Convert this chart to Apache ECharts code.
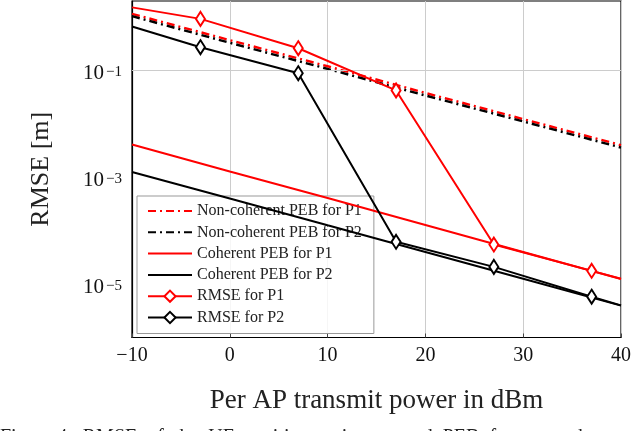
<!DOCTYPE html>
<html>
<head>
<meta charset="utf-8">
<script src="https://cdn.jsdelivr.net/npm/echarts@6/dist/echarts.min.js"></script>
<style>
  html, body { margin: 0; padding: 0; background: #fff; }
  #chart { width: 640px; height: 431px; }
</style>
</head>
<body>
<div id="chart"></div>
<script>
// ---- data ----
var powerTicks = [-10, 0, 10, 20, 30, 40];
var yTickExps = [-5, -3, -1];

// straight PEB curves (dBm, metres)
var pebX = [-10, 0, 10, 20, 30, 40];
var nonCohP1 = [1.15, 0.37, 0.12, 0.038, 0.0123, 0.0040];
var nonCohP2 = [1.04, 0.33, 0.107, 0.034, 0.0111, 0.0036];
var cohP1 = [4.1e-3, 1.28e-3, 4.1e-4, 1.28e-4, 4.0e-5, 1.25e-5];
var cohP2 = [1.26e-3, 4.0e-4, 1.26e-4, 4.0e-5, 1.26e-5, 3.95e-6];

// RMSE curves, markers only at -3, 7, 17, 27, 37
var rmseX = [-10, -3, 7, 17, 27, 37, 40];
var rmseP1 = [1.52, 0.925, 0.261, 0.0423, 5.5e-5, 1.77e-5, 1.26e-5];
var rmseP2 = [0.664, 0.273, 0.089, 6.2e-5, 2.1e-5, 5.8e-6, 4.0e-6];
var rmseMarked = [false, true, true, true, true, true, false];

var RED = '#ff0000';
var BLACK = '#000000';
var FONT = 'Liberation Serif';

function pairs(xs, ys) {
  return xs.map(function (x, i) { return [x, ys[i]]; });
}
function markedPairs(xs, ys) {
  return xs.map(function (x, i) {
    return rmseMarked[i] ? { value: [x, ys[i]] } : { value: [x, ys[i]], symbol: 'none' };
  });
}

var chart = echarts.init(document.getElementById('chart'), null, { renderer: 'canvas' });

var dashDot = [8, 4, 2, 4];
var noMarker = { color: 'rgba(0,0,0,0)', borderColor: 'rgba(0,0,0,0)', borderWidth: 0 };

var option = {
  animation: false,
  backgroundColor: '#fff',
  textStyle: { fontFamily: FONT },
  grid: {
    left: 132, right: 19, top: 1, bottom: 93.5,
    show: true, borderColor: '#000', borderWidth: 1.2, backgroundColor: 'transparent'
  },
  xAxis: {
    type: 'value',
    min: -10, max: 40, interval: 10,
    name: 'Per AP transmit power in dBm',
    nameLocation: 'middle',
    nameGap: 50,
    nameTextStyle: { fontFamily: FONT, fontSize: 27, color: '#222' },
    axisLine: { show: true, onZero: false, lineStyle: { color: '#000', width: 1.2 } },
    axisTick: { show: true, inside: true, length: 4, lineStyle: { color: '#444' } },
    axisLabel: {
      margin: 8, fontFamily: FONT, fontSize: 20, color: '#111',
      formatter: function (v) {
        return powerTicks.indexOf(v) >= 0 ? String(v).replace('-', '\u2212') : '';
      }
    },
    splitLine: { show: true, lineStyle: { color: '#cccccc', width: 1 } }
  },
  yAxis: {
    type: 'log',
    logBase: 10,
    min: 1e-6, max: 2,
    interval: 1,
    name: 'RMSE [m]',
    nameLocation: 'middle',
    nameRotate: 90,
    nameGap: 78,
    nameTextStyle: { fontFamily: FONT, fontSize: 26, color: '#222' },
    axisLine: { show: true, onZero: false, lineStyle: { color: '#000', width: 1.2 } },
    axisTick: { show: false },
    splitLine: { show: false },
    axisLabel: {
      margin: 10,
      color: '#111',
      formatter: function (v) {
        var e = Math.log10(v);
        var r = Math.round(e);
        if (Math.abs(e - r) > 1e-6 || yTickExps.indexOf(r) < 0) return '';
        return '{b|10}{s|' + String(r).replace('-', '\u2212') + '}';
      },
      rich: {
        b: { fontFamily: FONT, fontSize: 21, lineHeight: 24, padding: [6, 0, 0, 0], color: '#111' },
        s: { fontFamily: FONT, fontSize: 15, lineHeight: 14, padding: [6, 0, 0, 2], verticalAlign: 'top', color: '#111' }
      }
    }
  },
  legend: {
    orient: 'vertical',
    left: 137, top: 196,
    padding: [7, 12, 8, 10],
    itemWidth: 44, itemHeight: 14, itemGap: 5.3,
    backgroundColor: 'rgba(255,255,255,0.82)',
    borderColor: '#999', borderWidth: 1, borderRadius: 0,
    textStyle: { fontFamily: FONT, fontSize: 16, color: '#222' },
    data: [
      { name: 'Non-coherent PEB for P1', itemStyle: noMarker },
      { name: 'Non-coherent PEB for P2', itemStyle: noMarker },
      { name: 'Coherent PEB for P1', itemStyle: noMarker },
      { name: 'Coherent PEB for P2', itemStyle: noMarker },
      { name: 'RMSE for P1' },
      { name: 'RMSE for P2' }
    ]
  },
  series: [
    {
      name: 'Non-coherent PEB for P1', type: 'line', symbol: 'none',
      data: pairs(pebX, nonCohP1),
      lineStyle: { color: RED, width: 2.4, type: dashDot }, itemStyle: { color: RED },
      markLine: {
        silent: true, symbol: 'none', label: { show: false },
        lineStyle: { color: '#cccccc', width: 1, type: 'solid' },
        data: yTickExps.map(function (e) { return { yAxis: Math.pow(10, e) }; })
      },
      z: 2
    },
    {
      name: 'Non-coherent PEB for P2', type: 'line', symbol: 'none',
      data: pairs(pebX, nonCohP2),
      lineStyle: { color: BLACK, width: 2.4, type: dashDot }, itemStyle: { color: BLACK },
      z: 3
    },
    {
      name: 'Coherent PEB for P1', type: 'line', symbol: 'none',
      data: pairs(pebX, cohP1),
      lineStyle: { color: RED, width: 2 }, itemStyle: { color: RED },
      z: 4
    },
    {
      name: 'Coherent PEB for P2', type: 'line', symbol: 'none',
      data: pairs(pebX, cohP2),
      lineStyle: { color: BLACK, width: 2 }, itemStyle: { color: BLACK },
      z: 5
    },
    {
      name: 'RMSE for P1', type: 'line', symbol: 'diamond', symbolSize: [9, 14],
      showAllSymbol: true,
      data: markedPairs(rmseX, rmseP1),
      lineStyle: { color: RED, width: 2 },
      itemStyle: { color: '#fff', borderColor: RED, borderWidth: 2 },
      z: 6
    },
    {
      name: 'RMSE for P2', type: 'line', symbol: 'diamond', symbolSize: [9, 14],
      showAllSymbol: true,
      data: markedPairs(rmseX, rmseP2),
      lineStyle: { color: BLACK, width: 2 },
      itemStyle: { color: '#fff', borderColor: BLACK, borderWidth: 2 },
      z: 7
    }
  ],
  graphic: [{
    type: 'text', left: 0, top: 428,
    style: {
      text: 'Figure 4:  RMSE  of  the  UE  position  estimates  and  PEB  for  non-coherent  and  coherent',
      fontFamily: FONT, fontSize: 20, fill: '#222'
    }
  }]
};

chart.setOption(option);
</script>
</body>
</html>
